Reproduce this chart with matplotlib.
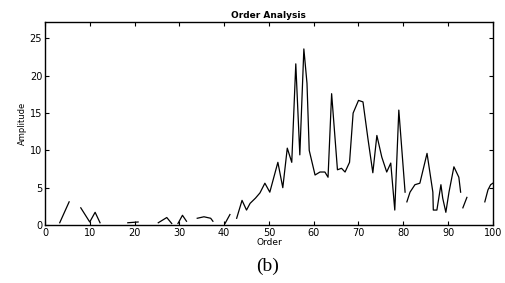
import numpy as np
import matplotlib.pyplot as plt

nan = np.nan

# order spectrum (nan = gap where the scanned trace is missing)
order = [3.3, 5.4, nan,
         8.0, 10.0, 11.2, 12.3, nan,
         18.5, 20.8, nan,
         25.3, 27.2, 28.3, nan,
         29.7, 30.7, 31.6, nan,
         34.0, 35.5, 37.0, 37.5, nan,
         40.2, 41.3, nan,
         42.8, 44.0, 45.0, 45.8, 47.0, 48.0, 49.1, 50.2, 52.0, 53.1, 54.1, 55.1,
         56.0, 56.9, 57.8, 58.5, 59.0, 60.3, 61.4, 62.5, 63.2, 64.0, 65.3, 66.2,
         67.0, 68.0, 68.8, 70.0, 71.0, 72.1, 73.2, 74.1, 75.2, 76.3, 77.2, 78.1,
         79.0, 80.4, nan,
         80.8, 81.5, 82.6, 83.7, 85.3, 86.6, 86.7, 87.5, 88.4, 88.8, 89.5, 90.2,
         91.3, 92.4, 92.8, nan,
         93.3, 94.2, nan,
         98.2, 98.9, 99.5, 100.0]
amplitude = [0.3, 3.1, nan,
             2.3, 0.4, 1.7, 0.3, nan,
             0.3, 0.4, nan,
             0.3, 1.0, 0.2, nan,
             0.2, 1.3, 0.5, nan,
             0.9, 1.1, 0.9, 0.5, nan,
             0.2, 1.4, nan,
             0.9, 3.3, 2.0, 2.9, 3.6, 4.3, 5.6, 4.4, 8.4, 5.0, 10.3, 8.4,
             21.6, 9.4, 23.6, 19.0, 10.0, 6.7, 7.1, 7.1, 6.4, 17.6, 7.4, 7.6,
             7.1, 8.4, 15.0, 16.7, 16.5, 11.6, 7.0, 12.0, 9.1, 7.1, 8.3, 2.0,
             15.4, 4.4, nan,
             3.1, 4.4, 5.4, 5.6, 9.6, 4.4, 2.0, 2.0, 5.4, 3.6, 1.7, 4.4,
             7.8, 6.4, 4.4, nan,
             2.3, 3.7, nan,
             3.1, 4.7, 5.4, 5.6]

xticks = [0, 10, 20, 30, 40, 50, 60, 70, 80, 90, 100]
yticks = [0, 5, 10, 15, 20, 25]

fig = plt.figure(figsize=(5.05, 2.83), dpi=100)
ax = fig.add_axes([0.089, 0.205, 0.887, 0.717])
ax.plot(order, amplitude, color='black', linewidth=0.9)
ax.set_xlim(0, 100)
ax.set_ylim(0, 27.2)
ax.set_xticks(xticks)
ax.set_yticks(yticks)
ax.tick_params(direction='in', length=3, width=0.8, labelsize=7,
               top=True, right=True, pad=2)
for s in ax.spines.values():
    s.set_linewidth(1.0)
ax.set_title('Order Analysis', fontsize=6.5, pad=3, fontweight='semibold')
ax.set_xlabel('Order', fontsize=6.5, labelpad=0)
ax.set_ylabel('Amplitude', fontsize=6, labelpad=2)
fig.text(0.53, 0.06, '(b)', fontsize=14, family='Liberation Serif',
         ha='center', va='center')
fig.savefig('out.png', dpi=100)
